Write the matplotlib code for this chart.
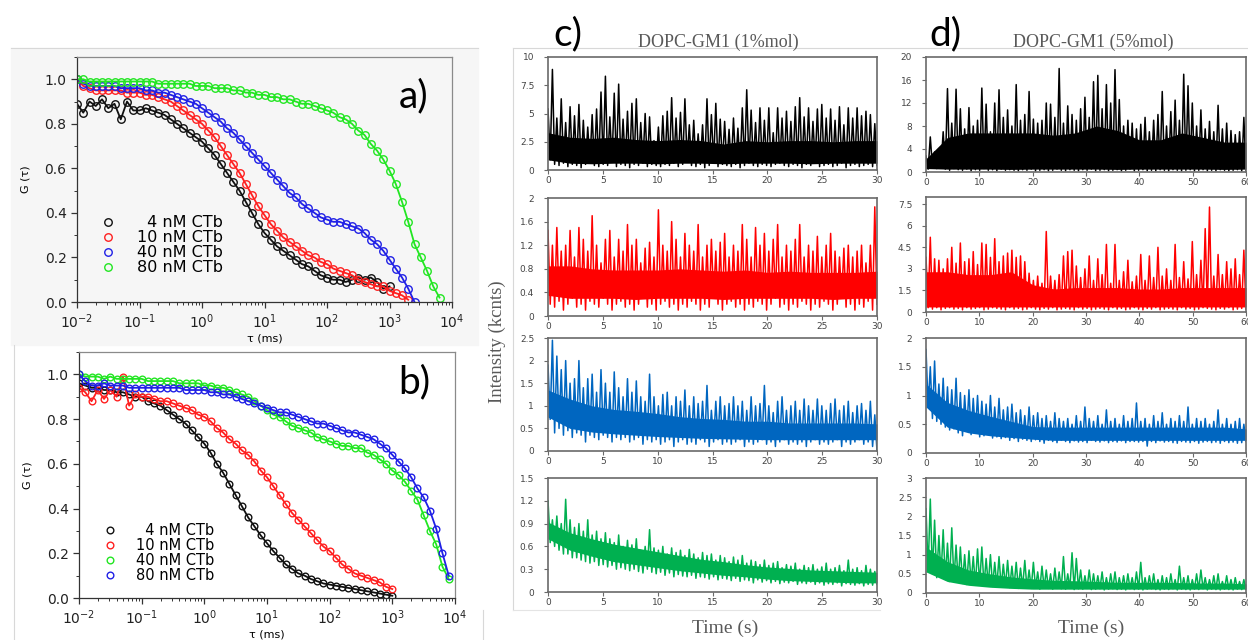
import numpy as np
import matplotlib
matplotlib.use('Agg')
import matplotlib.pyplot as plt
from matplotlib.patches import Rectangle
from matplotlib.lines import Line2D
from matplotlib.ticker import LogLocator, MultipleLocator, FuncFormatter, NullFormatter

# ---- FCS curves, G(tau), tau sampled every 0.1 decade starting at 1e-2 ms ----
a_black = [0.89, 0.85, 0.90, 0.88, 0.91, 0.87, 0.89, 0.82, 0.90, 0.86,
           0.86, 0.87, 0.86, 0.85, 0.84, 0.82, 0.80, 0.78, 0.76, 0.74,
           0.72, 0.69, 0.66, 0.62, 0.58, 0.54, 0.50, 0.45, 0.40, 0.35,
           0.31, 0.28, 0.25, 0.23, 0.21, 0.19, 0.17, 0.16, 0.14, 0.12,
           0.11, 0.10, 0.10, 0.09, 0.10, 0.11, 0.10, 0.11, 0.09, 0.06,
           0.07]
a_red = [1.00, 0.97, 0.96, 0.95, 0.95, 0.95, 0.95, 0.95, 0.94, 0.94,
         0.94, 0.93, 0.93, 0.92, 0.91, 0.90, 0.88, 0.86, 0.84, 0.82,
         0.80, 0.77, 0.74, 0.70, 0.66, 0.62, 0.58, 0.53, 0.48, 0.43,
         0.39, 0.35, 0.32, 0.29, 0.27, 0.25, 0.23, 0.21, 0.20, 0.18,
         0.17, 0.15, 0.14, 0.13, 0.12, 0.10, 0.09, 0.08, 0.07, 0.07,
         0.05, 0.04, 0.03, 0.01]
a_blue = [1.00, 0.98, 0.97, 0.97, 0.97, 0.97, 0.97, 0.96, 0.96, 0.96,
          0.96, 0.95, 0.95, 0.94, 0.94, 0.93, 0.92, 0.91, 0.90, 0.89,
          0.87, 0.85, 0.83, 0.81, 0.78, 0.76, 0.73, 0.70, 0.67, 0.64,
          0.61, 0.58, 0.55, 0.52, 0.49, 0.47, 0.44, 0.42, 0.40, 0.38,
          0.37, 0.36, 0.36, 0.35, 0.34, 0.33, 0.31, 0.28, 0.26, 0.23,
          0.19, 0.15, 0.11, 0.06, 0.00]
a_green = [1.00, 1.00, 0.99, 0.99, 0.99, 0.99, 0.99, 0.99, 0.99, 0.99,
           0.99, 0.99, 0.99, 0.98, 0.98, 0.98, 0.98, 0.98, 0.98, 0.97,
           0.97, 0.97, 0.96, 0.96, 0.96, 0.95, 0.95, 0.94, 0.94, 0.93,
           0.93, 0.92, 0.92, 0.91, 0.91, 0.90, 0.89, 0.89, 0.88, 0.87,
           0.86, 0.85, 0.83, 0.82, 0.80, 0.77, 0.75, 0.71, 0.68, 0.64,
           0.59, 0.53, 0.45, 0.36, 0.26, 0.20, 0.14, 0.07, 0.02]

b_black = [0.96, 0.95, 0.94, 0.94, 0.93, 0.93, 0.92, 0.92, 0.91, 0.90,
           0.90, 0.88, 0.87, 0.86, 0.84, 0.82, 0.80, 0.78, 0.75, 0.72,
           0.69, 0.65, 0.60, 0.56, 0.51, 0.46, 0.41, 0.36, 0.32, 0.28,
           0.245, 0.21, 0.18, 0.15, 0.13, 0.11, 0.10, 0.085, 0.075, 0.065,
           0.06, 0.055, 0.05, 0.045, 0.04, 0.035, 0.03, 0.025, 0.02, 0.015,
           0.01]
b_red = [0.94, 0.92, 0.88, 0.93, 0.89, 0.93, 0.90, 0.99, 0.86, 0.91,
         0.90, 0.90, 0.89, 0.88, 0.88, 0.87, 0.86, 0.85, 0.84, 0.82,
         0.81, 0.79, 0.76, 0.74, 0.71, 0.69, 0.66, 0.64, 0.61, 0.57,
         0.54, 0.50, 0.46, 0.42, 0.38, 0.35, 0.32, 0.29, 0.26, 0.23,
         0.21, 0.18, 0.15, 0.13, 0.11, 0.10, 0.09, 0.08, 0.07, 0.05,
         0.04]
b_green = [1.00, 0.99, 0.99, 0.99, 0.98, 0.99, 0.98, 0.98, 0.98, 0.98,
           0.98, 0.97, 0.97, 0.97, 0.97, 0.97, 0.96, 0.96, 0.96, 0.96,
           0.95, 0.95, 0.94, 0.94, 0.93, 0.92, 0.91, 0.90, 0.88, 0.86,
           0.84, 0.82, 0.81, 0.79, 0.77, 0.76, 0.75, 0.74, 0.72, 0.71,
           0.70, 0.69, 0.68, 0.68, 0.67, 0.67, 0.65, 0.64, 0.62, 0.60,
           0.57, 0.55, 0.52, 0.48, 0.44, 0.37, 0.30, 0.24, 0.14, 0.085]
b_blue = [1.00, 0.97, 0.95, 0.95, 0.96, 0.95, 0.95, 0.95, 0.94, 0.94,
          0.94, 0.94, 0.94, 0.94, 0.94, 0.94, 0.94, 0.93, 0.93, 0.93,
          0.93, 0.92, 0.92, 0.91, 0.91, 0.90, 0.89, 0.88, 0.87, 0.86,
          0.85, 0.84, 0.83, 0.83, 0.82, 0.81, 0.80, 0.79, 0.78, 0.78,
          0.77, 0.76, 0.75, 0.74, 0.74, 0.73, 0.72, 0.71, 0.69, 0.67,
          0.64, 0.61, 0.58, 0.54, 0.49, 0.45, 0.39, 0.31, 0.20, 0.10]

labels_a = ['\u20074 nM CTb', '10 nM CTb', '40 nM CTb', '80 nM CTb']
labels_b = ['\u20074 nM CTb', '10 nM CTb', '40 nM CTb', '80 nM CTb']
colors_a = ['#111111', '#ff2020', '#2020e6', '#22e622']
colors_b = ['#111111', '#ff2020', '#22e622', '#2020e6']

# ---- intensity traces: spike tops and floors ----
c_black_hi = [5.4, 8.9, 4.6, 6.3, 4.2, 5.6, 4.8, 5.8, 4.4, 3.8, 4.9, 5.4, 6.9, 8.3, 4.7,
              6.8, 7.6, 4.5, 5.2, 5.9, 6.3, 4.2, 5.0, 4.7, 2.6, 3.8, 4.8, 5.2, 6.4, 4.6,
              5.1, 6.3, 4.0, 4.4, 3.2, 4.0, 6.3, 4.9, 5.9, 4.5, 4.3, 3.6, 4.6, 3.7, 5.5,
              7.1, 5.3, 4.2, 5.5, 4.4, 5.5, 3.3, 5.5, 4.6, 5.2, 4.3, 5.6, 6.4, 4.7, 5.5,
              4.3, 5.4, 5.8, 4.6, 5.4, 4.4, 5.6, 4.0, 5.5, 4.6, 5.5, 4.8, 5.2, 4.9, 4.1]
c_black_lo = [0.9, 0.5, 0.4, 0.6, 0.3, 0.5, 0.4, 0.2, 0.5, 0.6, 0.4, 0.3, 0.5, 0.4, 0.7,
              0.3, 0.5, 0.4, 0.2, 0.5, 0.4, 0.6, 0.3, 0.5, 0.4, 0.3, 0.5, 0.4, 0.6, 0.3,
              0.5, 0.8, 0.4, 0.3, 0.5, 0.2, 0.4, 0.6, 0.3, 0.5, 0.4, 0.3, 0.5, 0.2, 0.4,
              0.6, 0.4, 0.3, 0.5, 0.4, 0.3, 0.5, 0.6, 0.4, 0.3, 0.5, 0.4, 0.2, 0.5, 0.4,
              0.6, 0.3, 0.4, 0.5, 0.3, 0.4, 0.6, 0.2, 0.4, 0.5, 0.3, 0.4, 0.5, 0.3, 0.4]
c_red_hi = [1.45, 1.2, 1.5, 1.1, 1.2, 1.45, 1.0, 1.5, 1.3, 1.1, 1.7, 1.2, 0.9, 1.3, 1.45,
            1.0, 1.3, 1.1, 1.55, 1.2, 1.3, 0.9, 1.15, 1.25, 1.0, 1.8, 1.2, 1.1, 1.6, 1.3,
            1.0, 1.4, 1.2, 1.1, 1.55, 1.0, 1.2, 1.3, 1.1, 1.25, 1.4, 1.0, 1.2, 1.1, 1.55,
            1.3, 1.0, 1.5, 1.2, 1.4, 1.1, 1.3, 1.55, 1.0, 1.2, 1.1, 1.3, 1.55, 1.0, 1.2,
            1.1, 1.35, 1.0, 1.2, 1.4, 1.1, 1.0, 1.15, 1.2, 1.0, 1.1, 1.2, 0.9, 1.2, 1.85]
c_red_lo = [0.2, 0.15, 0.25, 0.1, 0.2, 0.3, 0.15, 0.2, 0.1, 0.25, 0.2, 0.15, 0.3, 0.2, 0.1,
            0.2, 0.25, 0.15, 0.2, 0.1, 0.2, 0.3, 0.15, 0.2, 0.1, 0.2, 0.25, 0.15, 0.2, 0.1,
            0.2, 0.15, 0.25, 0.2, 0.1, 0.2, 0.15, 0.3, 0.2, 0.1, 0.2, 0.25, 0.15, 0.2, 0.1,
            0.2, 0.15, 0.25, 0.2, 0.1, 0.2, 0.3, 0.15, 0.2, 0.1, 0.2, 0.15, 0.25, 0.2, 0.1,
            0.2, 0.15, 0.25, 0.2, 0.1, 0.2, 0.3, 0.15, 0.2, 0.1, 0.2, 0.15, 0.25, 0.1, 0.2]
c_blue_hi = [1.9, 2.45, 2.1, 1.8, 2.0, 1.5, 1.6, 2.0, 1.4, 1.6, 1.7, 1.3, 1.8, 1.5, 1.3,
             1.75, 1.4, 1.2, 1.6, 1.3, 1.55, 1.2, 1.1, 1.7, 1.2, 1.0, 1.25, 1.3, 1.0, 1.2,
             1.1, 1.35, 1.0, 1.2, 1.05, 1.1, 1.45, 0.9, 1.1, 1.2, 1.0, 1.05, 1.2, 1.0, 1.1,
             0.9, 1.2, 1.0, 1.05, 1.45, 1.0, 0.85, 1.1, 1.2, 0.9, 1.0, 1.1, 0.9, 1.15, 1.0,
             0.9, 1.15, 1.0, 0.9, 1.05, 1.15, 0.9, 1.0, 1.1, 0.85, 1.0, 1.05, 0.9, 1.1, 0.8]
c_blue_lo = [0.7, 0.4, 0.5, 0.35, 0.45, 0.3, 0.4, 0.35, 0.2, 0.35, 0.3, 0.25, 0.35, 0.3, 0.2,
             0.3, 0.25, 0.3, 0.2, 0.25, 0.3, 0.15, 0.25, 0.2, 0.25, 0.15, 0.2, 0.25, 0.1, 0.2,
             0.25, 0.15, 0.2, 0.15, 0.25, 0.2, 0.1, 0.2, 0.25, 0.15, 0.2, 0.15, 0.2, 0.25, 0.1,
             0.2, 0.15, 0.2, 0.25, 0.15, 0.2, 0.1, 0.2, 0.25, 0.15, 0.2, 0.15, 0.2, 0.1, 0.2,
             0.25, 0.15, 0.2, 0.15, 0.2, 0.25, 0.1, 0.2, 0.15, 0.2, 0.25, 0.15, 0.2, 0.1, 0.0]
c_green_hi = [1.2, 0.95, 1.0, 0.9, 1.22, 0.95, 0.85, 0.9, 0.8, 0.95, 0.75, 0.8, 0.7, 0.78, 0.7,
              0.65, 0.75, 0.6, 0.68, 0.62, 0.7, 0.55, 0.6, 0.82, 0.58, 0.55, 0.6, 0.5, 0.58, 0.52,
              0.55, 0.48, 0.56, 0.5, 0.45, 0.52, 0.48, 0.5, 0.42, 0.48, 0.45, 0.4, 0.46, 0.42, 0.48,
              0.38, 0.42, 0.4, 0.36, 0.42, 0.35, 0.38, 0.4, 0.32, 0.36, 0.34, 0.38, 0.3, 0.35, 0.32,
              0.36, 0.3, 0.33, 0.38, 0.3, 0.32, 0.35, 0.28, 0.42, 0.3, 0.32, 0.28, 0.35, 0.3, 0.27]
c_green_lo = [0.65, 0.6, 0.55, 0.5, 0.5, 0.45, 0.45, 0.42, 0.4, 0.38, 0.4, 0.35, 0.36, 0.33, 0.35,
              0.3, 0.32, 0.3, 0.28, 0.3, 0.27, 0.25, 0.3, 0.26, 0.24, 0.26, 0.22, 0.25, 0.2, 0.23,
              0.21, 0.2, 0.22, 0.18, 0.2, 0.19, 0.17, 0.2, 0.16, 0.18, 0.17, 0.15, 0.18, 0.14, 0.16,
              0.15, 0.12, 0.16, 0.13, 0.15, 0.12, 0.14, 0.11, 0.13, 0.12, 0.14, 0.1, 0.12, 0.11, 0.13,
              0.1, 0.12, 0.09, 0.11, 0.1, 0.12, 0.08, 0.11, 0.1, 0.09, 0.11, 0.08, 0.1, 0.09, 0.1]

d_black_hi = [2.8, 6.1, 3.5, 4.0, 7.0, 14.5, 8.5, 14.4, 11.0, 7.5, 11.2, 8.0, 9.0, 14.6, 11.8,
              7.0, 12.0, 14.3, 9.5, 10.8, 8.0, 15.2, 9.0, 10.0, 14.0, 9.2, 8.5, 9.0, 12.0, 11.8,
              9.5, 18.0, 8.5, 11.5, 10.0, 9.0, 11.0, 13.0, 9.5, 15.7, 16.8, 11.0, 15.2, 12.0, 17.8,
              12.6, 8.0, 9.0, 8.5, 7.5, 8.3, 9.5, 7.0, 9.0, 10.0, 14.0, 8.0, 10.5, 12.5, 9.0,
              17.0, 15.0, 12.0, 8.0, 10.8, 7.5, 8.8, 7.0, 11.6, 7.5, 8.5, 7.2, 6.5, 7.0, 9.5]
d_black_lo = [0.5, 0.8, 0.6, 1.0, 0.5, 0.3, 0.6, 0.4, 0.3, 0.5, 0.2, 0.4, 0.3, 0.6, 0.3,
              0.4, 0.2, 0.5, 0.3, 0.4, 0.3, 0.2, 0.4, 0.3, 0.5, 0.2, 0.3, 0.4, 0.2, 0.3,
              0.5, 0.3, 0.2, 0.4, 0.3, 0.2, 0.4, 0.3, 0.5, 0.2, 0.3, 0.4, 0.2, 0.3, 0.4,
              0.2, 0.3, 0.5, 0.2, 0.3, 0.4, 0.2, 0.3, 0.2, 0.4, 0.3, 0.2, 0.4, 0.3, 0.2,
              0.3, 0.4, 0.2, 0.3, 0.4, 0.2, 0.3, 0.2, 0.4, 0.3, 0.2, 0.3, 0.4, 0.2, 0.3]
d_red_hi = [3.8, 5.2, 3.7, 3.6, 3.0, 3.7, 4.5, 3.4, 4.8, 3.5, 3.7, 4.2, 3.3, 4.8, 4.7,
            3.8, 5.1, 3.5, 3.9, 4.1, 4.3, 3.8, 3.9, 3.5, 2.7, 2.2, 2.5, 2.0, 5.6, 2.5,
            2.2, 2.6, 3.9, 4.2, 4.3, 3.2, 2.4, 3.0, 3.9, 2.2, 3.7, 2.6, 4.7, 2.0, 4.7,
            2.2, 2.8, 3.6, 2.1, 2.5, 4.0, 2.2, 3.9, 2.4, 4.5, 2.5, 3.0, 2.2, 4.7, 2.4,
            3.5, 2.3, 4.9, 2.6, 3.6, 5.8, 7.3, 2.5, 4.0, 2.6, 3.5, 3.0, 3.7, 2.6, 4.3]
d_red_lo = [0.3, 0.2, 0.3, 0.15, 0.25, 0.3, 0.2, 0.25, 0.15, 0.3, 0.2, 0.25, 0.3, 0.15, 0.2,
            0.3, 0.25, 0.2, 0.15, 0.3, 0.2, 0.25, 0.15, 0.2, 0.3, 0.2, 0.15, 0.25, 0.2, 0.3,
            0.15, 0.2, 0.25, 0.2, 0.15, 0.3, 0.2, 0.25, 0.15, 0.2, 0.25, 0.2, 0.15, 0.3, 0.2,
            0.25, 0.15, 0.2, 0.3, 0.2, 0.15, 0.25, 0.2, 0.3, 0.15, 0.2, 0.25, 0.2, 0.15, 0.3,
            0.2, 0.25, 0.15, 0.2, 0.3, 0.25, 0.2, 0.15, 0.25, 0.2, 0.3, 0.15, 0.2, 0.25, 0.2]
d_blue_hi = [1.8, 1.5, 1.6, 1.2, 1.3, 1.15, 1.1, 1.3, 1.05, 1.0, 1.1, 0.95, 1.0, 0.9, 0.85,
             1.0, 0.8, 0.95, 0.75, 0.8, 0.85, 0.7, 0.75, 0.65, 0.8, 0.65, 0.7, 0.6, 0.65, 0.55,
             0.7, 0.6, 0.55, 0.6, 0.5, 0.65, 0.55, 0.8, 0.6, 0.55, 0.65, 0.5, 0.75, 0.55, 0.6,
             0.5, 0.65, 0.55, 0.6, 0.87, 0.55, 0.6, 0.5, 0.65, 0.55, 0.7, 0.5, 0.6, 0.55, 0.65,
             0.55, 0.8, 0.5, 0.6, 0.55, 0.6, 0.5, 0.55, 0.75, 0.5, 0.6, 0.5, 0.55, 0.6, 0.5]
d_blue_lo = [0.8, 0.6, 0.55, 0.5, 0.45, 0.4, 0.42, 0.35, 0.3, 0.38, 0.32, 0.35, 0.28, 0.3, 0.32,
             0.26, 0.28, 0.25, 0.27, 0.22, 0.25, 0.2, 0.24, 0.22, 0.2, 0.23, 0.2, 0.17, 0.22, 0.2,
             0.18, 0.22, 0.2, 0.18, 0.21, 0.19, 0.2, 0.18, 0.22, 0.2, 0.19, 0.21, 0.18, 0.2, 0.19,
             0.21, 0.18, 0.2, 0.2, 0.19, 0.2, 0.12, 0.2, 0.18, 0.21, 0.19, 0.2, 0.18, 0.17, 0.2,
             0.19, 0.18, 0.2, 0.17, 0.19, 0.2, 0.18, 0.19, 0.17, 0.2, 0.18, 0.19, 0.17, 0.18, 0.2]
d_green_hi = [2.2, 2.45, 1.9, 1.5, 1.65, 1.3, 1.7, 1.25, 1.2, 1.0, 1.1, 0.95, 1.15, 1.2, 0.9,
              1.0, 0.8, 0.95, 0.75, 0.85, 0.7, 0.8, 0.65, 0.85, 0.6, 0.8, 0.55, 0.7, 0.6, 0.5,
              0.65, 0.55, 0.95, 0.5, 1.05, 0.9, 0.6, 0.45, 0.6, 0.5, 0.45, 0.55, 0.4, 0.5, 0.55,
              0.4, 0.45, 0.5, 0.4, 0.55, 0.8, 0.4, 0.45, 0.5, 0.35, 0.45, 0.4, 0.5, 0.35, 0.7,
              0.4, 0.45, 0.35, 0.5, 0.6, 0.4, 0.35, 0.45, 0.5, 0.3, 0.45, 0.35, 0.4, 0.3, 0.35]
d_green_lo = [0.6, 0.5, 0.4, 0.45, 0.35, 0.3, 0.32, 0.28, 0.25, 0.22, 0.25, 0.2, 0.22, 0.18, 0.2,
              0.17, 0.19, 0.15, 0.17, 0.14, 0.16, 0.12, 0.15, 0.13, 0.12, 0.14, 0.1, 0.13, 0.12, 0.1,
              0.12, 0.11, 0.1, 0.12, 0.09, 0.11, 0.1, 0.12, 0.09, 0.1, 0.11, 0.08, 0.1, 0.11, 0.09,
              0.1, 0.08, 0.11, 0.09, 0.1, 0.08, 0.1, 0.11, 0.09, 0.08, 0.1, 0.09, 0.11, 0.08, 0.1,
              0.09, 0.08, 0.1, 0.09, 0.11, 0.08, 0.1, 0.09, 0.08, 0.1, 0.09, 0.08, 0.1, 0.09, 0.1]

# dense core of each trace (top, bottom; 16 readings evenly over the time span)
c_black_core = ([3.3, 2.9, 2.8, 2.9, 2.7, 2.6, 2.7, 2.6, 2.3, 2.6, 2.5, 2.6, 2.6, 2.5, 2.6, 2.6],
                [0.9, 0.6, 0.55, 0.6, 0.6, 0.55, 0.6, 0.6, 0.55, 0.6, 0.6, 0.6, 0.55, 0.6, 0.6, 0.6])
c_red_core = ([0.85, 0.85, 0.8, 0.78, 0.78, 0.78, 0.8, 0.78, 0.76, 0.78, 0.74, 0.76, 0.74, 0.74, 0.74, 0.76],
              [0.35, 0.3, 0.3, 0.3, 0.28, 0.3, 0.3, 0.3, 0.28, 0.3, 0.3, 0.3, 0.3, 0.28, 0.3, 0.3])
c_blue_core = ([1.35, 1.15, 1.0, 0.92, 0.88, 0.83, 0.76, 0.72, 0.7, 0.66, 0.66, 0.62, 0.62, 0.62, 0.62, 0.6],
               [0.75, 0.5, 0.42, 0.38, 0.35, 0.32, 0.3, 0.28, 0.27, 0.26, 0.25, 0.25, 0.25, 0.25, 0.25, 0.25])
c_green_core = ([0.92, 0.78, 0.7, 0.63, 0.58, 0.53, 0.48, 0.43, 0.4, 0.36, 0.33, 0.31, 0.29, 0.28, 0.27, 0.26],
                [0.7, 0.55, 0.47, 0.4, 0.36, 0.32, 0.28, 0.25, 0.22, 0.2, 0.17, 0.15, 0.14, 0.13, 0.12, 0.12])
d_black_core = ([2.3, 6.0, 6.8, 6.8, 6.8, 6.8, 6.4, 6.8, 8.0, 7.2, 5.6, 5.6, 6.8, 6.0, 5.2, 5.2],
                [0.6, 0.5, 0.5, 0.5, 0.45, 0.5, 0.5, 0.5, 0.5, 0.45, 0.5, 0.5, 0.5, 0.5, 0.45, 0.5])
d_red_core = ([2.8, 2.8, 2.6, 2.6, 2.8, 1.9, 1.6, 1.7, 1.7, 1.7, 1.6, 1.6, 1.7, 1.7, 1.7, 1.7],
              [0.35, 0.35, 0.35, 0.35, 0.35, 0.35, 0.35, 0.35, 0.35, 0.35, 0.35, 0.35, 0.35, 0.35, 0.35, 0.35])
d_blue_core = ([1.2, 0.88, 0.74, 0.64, 0.55, 0.46, 0.45, 0.45, 0.45, 0.45, 0.45, 0.45, 0.45, 0.45, 0.45, 0.42],
               [0.8, 0.45, 0.35, 0.3, 0.27, 0.24, 0.22, 0.22, 0.22, 0.22, 0.22, 0.22, 0.22, 0.22, 0.22, 0.22])
d_green_core = ([1.2, 0.82, 0.6, 0.5, 0.42, 0.37, 0.33, 0.32, 0.3, 0.28, 0.28, 0.28, 0.27, 0.26, 0.26, 0.24],
                [0.55, 0.3, 0.2, 0.15, 0.12, 0.1, 0.1, 0.1, 0.1, 0.1, 0.1, 0.1, 0.1, 0.1, 0.1, 0.1])

c_yticks = [[0, 2.5, 5, 7.5, 10], [0, 0.4, 0.8, 1.2, 1.6, 2], [0, 0.5, 1, 1.5, 2, 2.5],
            [0, 0.3, 0.6, 0.9, 1.2, 1.5]]
d_yticks = [[0, 4, 8, 12, 16, 20], [0, 1.5, 3, 4.5, 6, 7.5], [0, 0.5, 1, 1.5, 2],
            [0, 0.5, 1, 1.5, 2, 2.5, 3]]
c_ylim = [10, 2, 2.5, 1.5]
d_ylim = [20, 8, 2, 3]
trace_colors = ['#000000', '#ff0000', '#0066c0', '#00b050']

W, H = 1248, 640
fig = plt.figure(figsize=(W / 100, H / 100), dpi=100)


def box(x0, y0, x1, y1):
    # pixel box (top-left origin) -> figure fraction rect
    return [x0 / W, 1 - y1 / H, (x1 - x0) / W, (y1 - y0) / H]


def fline(xs, ys, color='#d8d8d8'):
    fig.add_artist(Line2D([x / W for x in xs], [1 - y / H for y in ys],
                          transform=fig.transFigure, color=color, lw=0.8))


# panel a sits on a light grey pasted background
fig.add_artist(Rectangle((11 / W, 1 - 345 / H), (478 - 11) / W, (345 - 48) / H,
                         transform=fig.transFigure, color='#f6f6f6', zorder=0))
fline([11, 478], [48, 48])
fline([14, 14], [345, 640])
fline([513, 513], [48, 610])
fline([513, 1248], [48, 48])
fline([513, 880], [610, 610], '#e4e4e4')
fline([483, 483], [610, 640])


def fcs_panel(rect, series, colors, labels, ms, leg_y, leg_fs, tag, tag_xy):
    ax = fig.add_axes(rect)
    ax.set_facecolor('none')
    for vals, c, lab in zip(series, colors, labels):
        tau = 10 ** (-2 + 0.1 * np.arange(len(vals)))
        ax.plot(tau, vals, '-', color=c, lw=1.3)
        ax.plot(tau, vals, 'o', mfc='none', mec=c, ms=ms, mew=1.0, label=lab)
    ax.set_xscale('log')
    ax.set_xlim(1e-2, 1e4)
    ax.set_ylim(0, 1.1)
    ax.xaxis.set_major_locator(LogLocator(base=10, numticks=10))
    ax.xaxis.set_minor_locator(LogLocator(base=10, subs=np.arange(2, 10), numticks=20))
    ax.xaxis.set_minor_formatter(NullFormatter())
    ax.yaxis.set_major_locator(MultipleLocator(0.2))
    ax.yaxis.set_minor_locator(MultipleLocator(0.1))
    ax.yaxis.set_major_formatter(FuncFormatter(lambda v, p: '%.1f' % v))
    for s in ax.spines.values():
        s.set_color('#8a8a8a')
        s.set_linewidth(0.9)
    ax.spines['left'].set_color('#333333')
    ax.spines['bottom'].set_color('#333333')
    ax.tick_params(which='both', direction='out', colors='#333333', labelcolor='#222222',
                   labelsize=10)
    ax.tick_params(which='major', length=4, width=0.9)
    ax.tick_params(which='minor', length=2, width=0.7)
    ax.set_xlabel('\u03c4 (ms)', fontsize=8, labelpad=2)
    ax.set_ylabel('G (\u03c4)', fontsize=8, labelpad=10)
    ax.legend(loc='center left', bbox_to_anchor=(0.062, leg_y), frameon=False,
              fontsize=leg_fs, handlelength=1.0, handletextpad=1.3, labelspacing=0.0,
              borderpad=0, borderaxespad=0)
    fig.text(tag_xy[0] / W, 1 - tag_xy[1] / H, tag, fontsize=28, family='Lato',
             ha='center', va='center')
    return ax


fcs_panel(box(77, 57, 452, 302), [a_black, a_red, a_blue, a_green], colors_a, labels_a,
          5.4, 0.232, 11.5, 'a)', (414, 96))
fcs_panel(box(79, 352, 455, 598), [b_black, b_red, b_green, b_blue], colors_b, labels_b,
          4.8, 0.183, 10.5, 'b)', (414, 382))


def trace_panel(rect, hi, lo, core, T, color, ymax, yticks, xstep):
    ax = fig.add_axes(rect)
    tc = np.linspace(0, T, len(core[0]))
    ax.fill_between(tc, core[1], core[0], color=color, lw=0)
    n = min(len(hi), len(lo))
    t = np.linspace(0, T, 2 * n)
    y = np.empty(2 * n)
    y[0::2] = hi[:n]
    y[1::2] = lo[:n]
    ax.plot(t, y, color=color, lw=1.1)
    ax.set_xlim(0, T)
    ax.set_ylim(0, ymax)
    ax.set_yticks(yticks)
    ax.set_xticks(np.arange(0, T + 1, xstep))
    ax.yaxis.set_major_formatter(FuncFormatter(lambda v, p: '%g' % v))
    for s in ax.spines.values():
        s.set_color('#6a6a6a')
        s.set_linewidth(1.2)
    ax.tick_params(labelsize=6.5, colors='#6a6a6a', labelcolor='#444444', length=3,
                   width=0.8, direction='out')
    ax.tick_params(axis='y', pad=7)
    ax.tick_params(axis='x', pad=1.5)
    return ax


c_rows = [(57, 170), (198, 316), (338, 451), (478, 592)]
d_rows = [(57, 172), (197, 312), (338, 453), (478, 593)]
c_data = [(c_black_hi, c_black_lo, c_black_core), (c_red_hi, c_red_lo, c_red_core),
          (c_blue_hi, c_blue_lo, c_blue_core), (c_green_hi, c_green_lo, c_green_core)]
d_data = [(d_black_hi, d_black_lo, d_black_core), (d_red_hi, d_red_lo, d_red_core),
          (d_blue_hi, d_blue_lo, d_blue_core), (d_green_hi, d_green_lo, d_green_core)]

for k in range(4):
    hi, lo, core = c_data[k]
    trace_panel(box(548, c_rows[k][0], 877, c_rows[k][1]), hi, lo, core,
                30, trace_colors[k], c_ylim[k], c_yticks[k], 5)
    hi, lo, core = d_data[k]
    trace_panel(box(926, d_rows[k][0], 1246, d_rows[k][1]), hi, lo, core,
                60, trace_colors[k], d_ylim[k], d_yticks[k], 10)

serif = 'Liberation Serif'
fig.text(718 / W, 1 - 42 / H, 'DOPC-GM1 (1%mol)', fontsize=13, family=serif,
         color='#595959', ha='center', va='center')
fig.text(1093 / W, 1 - 42 / H, 'DOPC-GM1 (5%mol)', fontsize=13, family=serif,
         color='#595959', ha='center', va='center')
fig.text(568 / W, 1 - 34 / H, 'c)', fontsize=28, family='Lato', ha='center', va='center')
fig.text(945 / W, 1 - 34 / H, 'd)', fontsize=28, family='Lato', ha='center', va='center')
fig.text(497 / W, 1 - 342 / H, 'Intensity (kcnts)', fontsize=13.5, family=serif,
         color='#595959', rotation=90, ha='center', va='center')
fig.text(725 / W, 1 - 628 / H, 'Time (s)', fontsize=14, family=serif,
         color='#595959', ha='center', va='center')
fig.text(1091 / W, 1 - 628 / H, 'Time (s)', fontsize=14, family=serif,
         color='#595959', ha='center', va='center')

fig.savefig('out.png', dpi=100)
